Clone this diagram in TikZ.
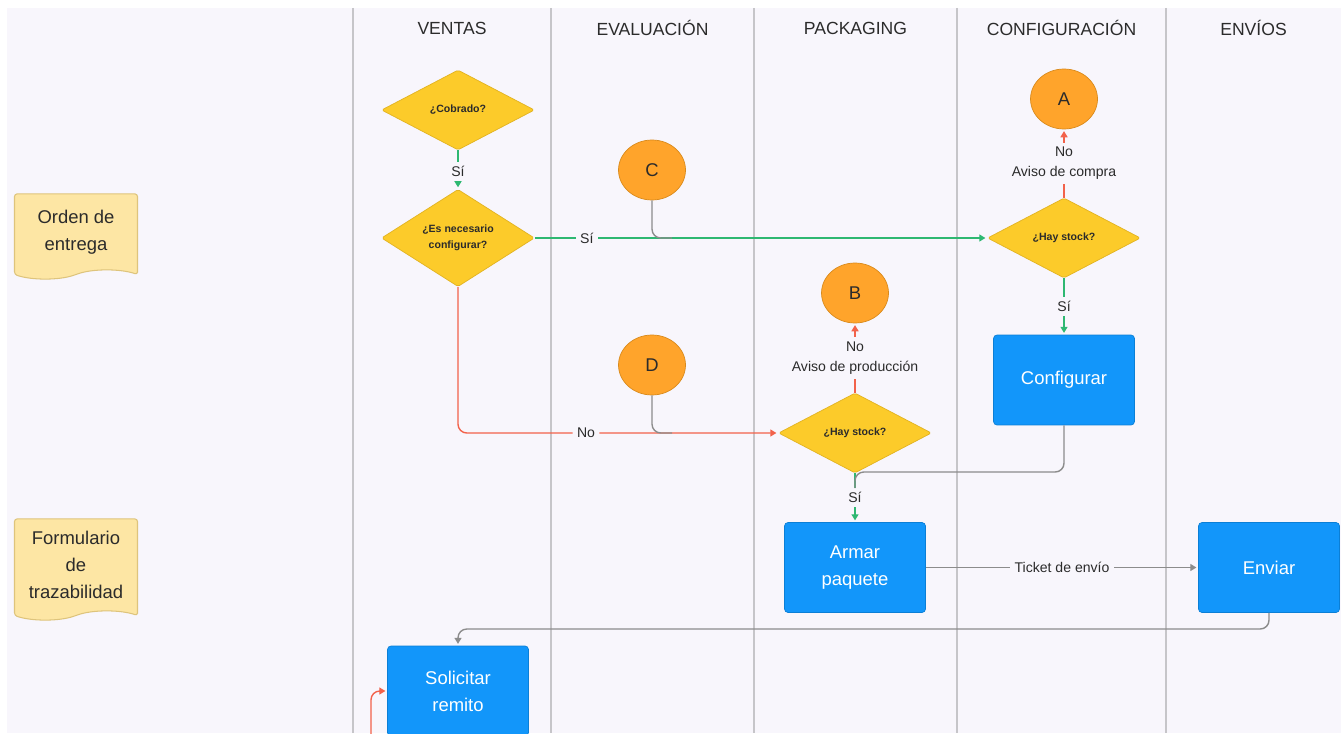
\documentclass[tikz,border=0pt]{standalone}
\usepackage{fontspec}
\setmainfont{Liberation Sans}
\usetikzlibrary{arrows.meta, positioning, shapes.geometric, shapes.symbols}
\definecolor{bgpage}{HTML}{F8F6FC}
\definecolor{laneline}{HTML}{C6C5C9}
\definecolor{decfill}{HTML}{FCCB2A}
\definecolor{decdraw}{HTML}{E2B322}
\definecolor{reffill}{HTML}{FFA42B}
\definecolor{refdraw}{HTML}{D98A1C}
\definecolor{taskfill}{HTML}{1296FA}
\definecolor{taskdraw}{HTML}{0B7FD6}
\definecolor{docfill}{HTML}{FDE6A4}
\definecolor{docdraw}{HTML}{DEC47C}
\definecolor{yesline}{HTML}{2EB872}
\definecolor{noline}{HTML}{F2624B}
\definecolor{flowline}{HTML}{8C8C8C}
\definecolor{txt}{HTML}{2B2B2B}

\begin{document}
\begin{tikzpicture}[
    x=0.02cm, y=-0.02cm,
    head/.style={font=\fontsize{10}{12}\selectfont, text=txt},
    decision/.style={diamond, draw=decdraw, fill=decfill, rounded corners=1pt, minimum width=3.06cm, minimum height=1.6cm, inner sep=0pt, align=center, font=\bfseries\fontsize{6}{9}\selectfont, text=txt},
    ref/.style={ellipse, draw=refdraw, fill=reffill, minimum width=1.34cm, minimum height=1.2cm, font=\fontsize{10.5}{12}\selectfont, text=txt},
    task/.style={draw=taskdraw, fill=taskfill, rounded corners=2pt, minimum width=2.82cm, minimum height=1.8cm, align=center, text=white, font=\fontsize{10.5}{15.3}\selectfont},
    doc/.style={tape, tape bend top=none, draw=docdraw, fill=docfill, line width=0.6pt, rounded corners=1.5pt, minimum width=2.46cm, align=center, text=txt, font=\fontsize{10.5}{15.3}\selectfont},
    lbl/.style={fill=bgpage, text=txt, inner sep=2.5pt, align=center, font=\fontsize{8}{11.3}\selectfont},
    connector/.style={line width=0.8pt, -{Triangle[length=3.5pt,width=4pt]}, shorten >=1pt},
    yes/.style={connector, draw=yesline},
    no/.style={connector, draw=noline},
    flow/.style={connector, draw=flowline},
    merge/.style={draw=flowline, line width=0.8pt, rounded corners=5pt},
    lane/.style={draw=laneline, line width=0.8pt}
]
\useasboundingbox (0,0) rectangle (1341,733);
\clip (0,0) rectangle (1341,733);
\fill[white] (0,0) rectangle (1341,733);
\fill[bgpage] (7,8) rectangle (1341,733);

% lanes
\foreach \x in {353,551,754,957,1166}
  \draw[lane] (\x,8) -- (\x,733);
\node[head] (hventas) at (452,28) {VENTAS};
\node[head] (heval) at (652.5,28) {EVALUACIÓN};
\node[head] (hpack) at (855.5,28) {PACKAGING};
\node[head] (hconf) at (1061.5,28) {CONFIGURACIÓN};
\node[head] (henv) at (1253.5,28) {ENVÍOS};

% documents
\node[doc, minimum height=1.7cm] (orden) at (76,232) {Orden de\\entrega};
\node[doc, minimum height=2.02cm] (formulario) at (76,565) {Formulario\\de\\trazabilidad};

% decisions
\node[decision] (cobrado) at (458,110) {¿Cobrado?};
\node[decision] (necesario) at (458,238) {¿Es necesario\\configurar?};
\node[decision] (stockcfg) at (1064,238) {¿Hay stock?};
\node[decision] (stockpack) at (855,433) {¿Hay stock?};

% references
\node[ref] (refA) at (1064,99) {A};
\node[ref] (refB) at (855,293) {B};
\node[ref] (refC) at (652,170) {C};
\node[ref] (refD) at (652,365) {D};

% tasks
\node[task] (configurar) at (1064,380) {Configurar};
\node[task] (armar) at (855,567.5) {Armar\\paquete};
\node[task] (enviar) at (1269,567.5) {Enviar};
\node[task] (solicitar) at (458,691) {Solicitar\\remito};

\coordinate (cmerge) at (672,238);
\coordinate (dmerge) at (672,433);
\coordinate (cfgbend) at (855,472);
\coordinate (cfgmerge) at (855,488);
\coordinate (ret) at (458,629);
\coordinate (redin) at (371,745);

\draw[yes] (cobrado.south) -- node[lbl, pos=0.55] {Sí} (necesario.north);
\draw[yes] (necesario.east) -- node[lbl, pos=0.115] {Sí} (stockcfg.west);
\draw[merge] (refC.south) |- (cmerge);
\draw[no, rounded corners=5pt] (necesario.south) |- node[lbl, pos=0.7] {No} (stockpack.west);
\draw[merge] (refD.south) |- (dmerge);
\draw[no] (stockcfg.north) -- node[lbl] {No\\Aviso de compra} (refA.south);
\draw[yes] (stockcfg.south) -- node[lbl] {Sí} (configurar.north);
\draw[no] (stockpack.north) -- node[lbl] {No\\Aviso de producción} (refB.south);
\draw[yes] (stockpack.south) -- node[lbl] {Sí} (armar.north);
\draw[merge] (configurar.south) |- (cfgbend) -- (cfgmerge);
\draw[flow] (armar.east) -- node[lbl] {Ticket de envío} (enviar.west);
\draw[flow, rounded corners=5pt] (enviar.south) |- (ret) -- (solicitar.north);
\draw[no, rounded corners=5pt] (redin) |- (solicitar.west);
\end{tikzpicture}
\end{document}
